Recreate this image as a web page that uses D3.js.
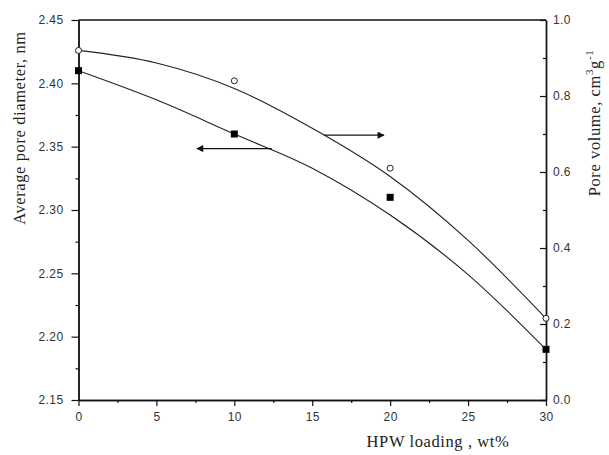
<!DOCTYPE html>
<html>
<head>
<meta charset="utf-8">
<script src="https://cdn.jsdelivr.net/npm/d3@7"></script>
<style>
  html, body { margin: 0; padding: 0; background: #fff; }
  svg { display: block; }
  .tick text { font-family: "Liberation Sans", Arial, sans-serif; font-size: 12px; fill: #333; letter-spacing: 0.4px; }
  .title { font-family: "Liberation Serif", "Times New Roman", serif; font-size: 16.5px; fill: #222; letter-spacing: 0.6px; }
</style>
</head>
<body>
<svg id="chart" width="609" height="455"></svg>
<script>
// HPW loading (wt%) for the measured samples
const loading = [0, 10, 20, 30];
// Average pore diameter, nm (filled squares, left axis)
const poreDiameter = [2.41, 2.36, 2.31, 2.19];
// Pore volume, cm3/g (open circles, right axis)
const poreVolume = [0.92, 0.84, 0.61, 0.215];

// Smoothed trend lines through the measurements
const trendLoading = [0, 5, 10, 15, 20, 25, 30];
const trendDiameter = [2.41, 2.387, 2.36, 2.333, 2.296, 2.249, 2.19];
const trendVolume = [0.92, 0.887, 0.82, 0.715, 0.588, 0.42, 0.215];

// Axis ticks
const xTicks = [0, 5, 10, 15, 20, 25, 30];
const xMinor = [2.5, 7.5, 12.5, 17.5, 22.5, 27.5];
const leftTicks = [2.15, 2.20, 2.25, 2.30, 2.35, 2.40, 2.45];
const leftMinor = [2.175, 2.225, 2.275, 2.325, 2.375, 2.425];
const rightTicks = [0.0, 0.2, 0.4, 0.6, 0.8, 1.0];
const rightMinor = [0.1, 0.3, 0.5, 0.7, 0.9];

const svg = d3.select("#chart");
const L = 78.5, R = 546, T = 20, B = 400;

const x = d3.scaleLinear().domain([0, 30]).range([L, R]);
const yL = d3.scaleLinear().domain([2.15, 2.45]).range([B, T]);
const yR = d3.scaleLinear().domain([0, 1]).range([B, T]);

// frame top
svg.append("line").attr("x1", L).attr("x2", R).attr("y1", T).attr("y2", T)
  .attr("stroke", "#111").attr("stroke-width", 1.3);

function styleAxis(g) {
  g.select(".domain").attr("stroke", "#111").attr("stroke-width", 1.4);
  g.selectAll(".tick line").attr("stroke", "#111").attr("stroke-width", 1.2);
}

// bottom axis
svg.append("g").attr("transform", `translate(0,${B})`)
  .call(d3.axisBottom(x).tickValues(xMinor).tickSize(3).tickFormat("").tickSizeOuter(0))
  .call(styleAxis);
svg.append("g").attr("transform", `translate(0,${B})`)
  .call(d3.axisBottom(x).tickValues(xTicks).tickSize(6).tickPadding(6).tickFormat(d3.format("d")).tickSizeOuter(0))
  .call(styleAxis);

// left axis
svg.append("g").attr("transform", `translate(${L},0)`)
  .call(d3.axisLeft(yL).tickValues(leftMinor).tickSize(3).tickFormat("").tickSizeOuter(0))
  .call(styleAxis);
svg.append("g").attr("transform", `translate(${L},0)`)
  .call(d3.axisLeft(yL).tickValues(leftTicks).tickSize(7).tickPadding(8).tickFormat(d3.format(".2f")).tickSizeOuter(0))
  .call(styleAxis);

// right axis (ticks point into the plot)
svg.append("g").attr("transform", `translate(${R},0)`)
  .call(d3.axisRight(yR).tickValues(rightMinor).tickSizeInner(-3).tickSizeOuter(0).tickFormat(""))
  .call(styleAxis);
svg.append("g").attr("transform", `translate(${R},0)`)
  .call(d3.axisRight(yR).tickValues(rightTicks).tickSizeInner(-6).tickSizeOuter(0).tickPadding(7).tickFormat(d3.format(".1f")))
  .call(styleAxis);

// trend lines
const trendDia = trendLoading.map((v, i) => [v, trendDiameter[i]]);
const trendVol = trendLoading.map((v, i) => [v, trendVolume[i]]);

svg.append("path").datum(trendDia)
  .attr("d", d3.line().x(d => x(d[0])).y(d => yL(d[1])).curve(d3.curveMonotoneX))
  .attr("fill", "none").attr("stroke", "#222").attr("stroke-width", 1.1);
svg.append("path").datum(trendVol)
  .attr("d", d3.line().x(d => x(d[0])).y(d => yR(d[1])).curve(d3.curveMonotoneX))
  .attr("fill", "none").attr("stroke", "#222").attr("stroke-width", 1.1);

// markers
const sq = 7;
svg.append("g").selectAll("rect").data(loading).join("rect")
  .attr("x", (d) => x(d) - sq / 2)
  .attr("y", (d, i) => yL(poreDiameter[i]) - sq / 2)
  .attr("width", sq).attr("height", sq).attr("fill", "#000");
svg.append("g").selectAll("circle").data(loading).join("circle")
  .attr("cx", d => x(d))
  .attr("cy", (d, i) => yR(poreVolume[i]))
  .attr("r", 3).attr("fill", "#fff").attr("stroke", "#222").attr("stroke-width", 1);

// arrows pointing to the axis each curve belongs to
const defs = svg.append("defs");
defs.append("marker").attr("id", "head").attr("viewBox", "0 0 10 10")
  .attr("refX", 9).attr("refY", 5).attr("markerWidth", 10).attr("markerHeight", 7)
  .attr("markerUnits", "userSpaceOnUse").attr("orient", "auto")
  .append("path").attr("d", "M0,0 L10,5 L0,10 Z").attr("fill", "#111");

svg.append("line").attr("x1", x(15.75)).attr("x2", x(19.6))
  .attr("y1", yR(0.697)).attr("y2", yR(0.697))
  .attr("stroke", "#111").attr("stroke-width", 1.3).attr("marker-end", "url(#head)");
svg.append("line").attr("x1", x(12.4)).attr("x2", x(7.6))
  .attr("y1", yL(2.3485)).attr("y2", yL(2.3485))
  .attr("stroke", "#111").attr("stroke-width", 1.3).attr("marker-end", "url(#head)");

// axis titles
svg.append("text").attr("class", "title")
  .attr("transform", "translate(25,128) rotate(-90)")
  .attr("text-anchor", "middle")
  .text("Average pore diameter, nm");

const rt = svg.append("text").attr("class", "title")
  .attr("transform", "translate(600,123) rotate(-90)")
  .attr("text-anchor", "middle");
rt.append("tspan").text("Pore volume, cm");
rt.append("tspan").attr("dy", -7).attr("font-size", 11).text("3");
rt.append("tspan").attr("dy", 7).text("g");
rt.append("tspan").attr("dy", -7).attr("font-size", 11).text("-1");

svg.append("text").attr("class", "title")
  .attr("x", 438).attr("y", 447).attr("text-anchor", "middle")
  .text("HPW loading , wt%");
</script>
</body>
</html>
